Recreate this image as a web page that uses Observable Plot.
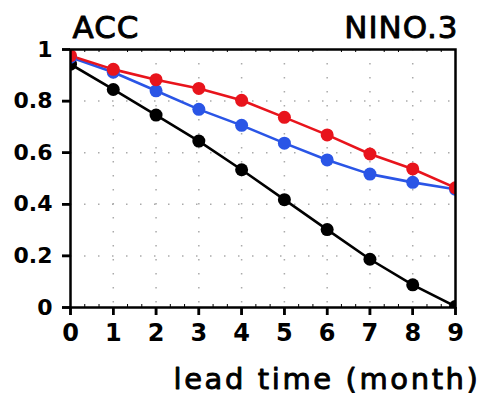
<!DOCTYPE html>
<html>
<head>
<meta charset="utf-8">
<script src="https://cdn.jsdelivr.net/npm/d3@7"></script>
<script src="https://cdn.jsdelivr.net/npm/@observablehq/plot@0.6"></script>
<style>
  html, body { margin: 0; padding: 0; background: #fff; }
  g[aria-label="x-axis tick label"] text, g[aria-label="x-axis tick label"] { font-size: 24px; font-weight: bold; }
  g[aria-label="y-axis tick label"] text, g[aria-label="y-axis tick label"] { font-size: 22px; font-weight: bold; }
  g[aria-label="x-axis tick"], g[aria-label="y-axis tick"] { stroke: #000; stroke-width: 2.5px; stroke-opacity: 1; }
</style>
</head>
<body>
<div id="chart"></div>
<script>
const leads = [0, 1, 2, 3, 4, 5, 6, 7, 8, 9];
const blackACC = [0.943, 0.845, 0.746, 0.645, 0.534, 0.418, 0.302, 0.187, 0.088, 0.004];
const blueACC  = [0.970, 0.912, 0.840, 0.768, 0.706, 0.637, 0.572, 0.517, 0.485, 0.458];
const redACC   = [0.976, 0.923, 0.883, 0.849, 0.803, 0.737, 0.669, 0.595, 0.537, 0.464];
const yTicks = [0, 0.2, 0.4, 0.6, 0.8, 1];
const yTickLabels = ["0", "0.2", "0.4", "0.6", "0.8", "1"];
const minorX = leads.slice(0, -1).flatMap(d => [d + 1/3, d + 2/3]);

const series = [
  {name: "black", color: "#000000", values: blackACC},
  {name: "blue", color: "#2a55e6", values: blueACC},
  {name: "red", color: "#e8141c", values: redACC}
];
const rows = series.flatMap(s => leads.map((l, i) => ({series: s.name, color: s.color, lead: l, acc: s.values[i]})));

const W = 486, H = 394, ML = 70, MR = 31, MT = 49, MB = 87;
const frameW = W - ML - MR, frameH = H - MT - MB;
const xMax = 9, yMax = 1;
const majorLen = 8, minorLen = 3;
const tX = majorLen / frameH * yMax;
const tY = majorLen / frameW * xMax;
const mX = minorLen / frameH * yMax;
const font = "DejaVu Sans, sans-serif";

const chart = Plot.plot({
  width: W,
  height: H,
  marginLeft: ML,
  marginRight: MR,
  marginTop: MT,
  marginBottom: MB,
  style: {fontFamily: font, background: "#fff"},
  x: {domain: [0, xMax], ticks: leads, tickSize: 8, tickPadding: 8, label: null, tickFormat: d => String(d)},
  y: {domain: [0, yMax], ticks: yTicks, tickSize: 8, tickPadding: 10, label: null, tickFormat: d => yTickLabels[yTicks.indexOf(d)]},
  marks: [
    Plot.gridX(leads.slice(1, -1), {stroke: "#aaa", strokeOpacity: 1, strokeWidth: 1.5, strokeDasharray: "1.5,12.5"}),
    Plot.gridY(yTicks.slice(1, -1), {stroke: "#aaa", strokeOpacity: 1, strokeWidth: 1.5, strokeDasharray: "1.5,12.5"}),
    Plot.ruleX(minorX, {x: d => d, y1: 0, y2: mX, stroke: "#000", strokeWidth: 1}),
    Plot.ruleX(minorX, {x: d => d, y1: yMax, y2: yMax - mX, stroke: "#000", strokeWidth: 1}),
    Plot.ruleX(leads, {x: d => d, y1: 0, y2: -tX, stroke: "#000", strokeWidth: 2.5}),
    Plot.ruleY(yTicks, {y: d => d, x1: 0, x2: -tY, stroke: "#000", strokeWidth: 2.5}),
    Plot.line(rows, {x: "lead", y: "acc", z: "series", stroke: "color", strokeWidth: 2.6, clip: true}),
    Plot.dot(rows, {x: "lead", y: "acc", fill: "color", r: 6.5, clip: true}),
    Plot.frame({stroke: "#000", strokeWidth: 2.5}),
    Plot.text(["ACC"], {frameAnchor: "top-left", text: d => d, dx: 2, dy: -12, lineAnchor: "bottom", textAnchor: "start", fontSize: 31, fill: "#000", stroke: "#000", strokeWidth: 0.9}),
    Plot.text(["NINO.3"], {frameAnchor: "top-right", text: d => d, dx: 3, dy: -12, lineAnchor: "bottom", textAnchor: "end", fontSize: 31, fill: "#000", stroke: "#000", strokeWidth: 0.9}),
    Plot.text(["lead time (month)"], {frameAnchor: "bottom-right", text: d => d, dx: 25, dy: 81, lineAnchor: "bottom", textAnchor: "end", fontSize: 29, fill: "#000", stroke: "#000", strokeWidth: 0.9})
  ]
});
d3.select(chart).selectAll("text").each(function() {
  const t = this.textContent;
  if (t === "lead time (month)") d3.select(this).style("letter-spacing", "2.6px");
  if (t === "ACC" || t === "NINO.3") d3.select(this).style("letter-spacing", "1px");
});
document.getElementById("chart").appendChild(chart);
</script>
</body>
</html>
